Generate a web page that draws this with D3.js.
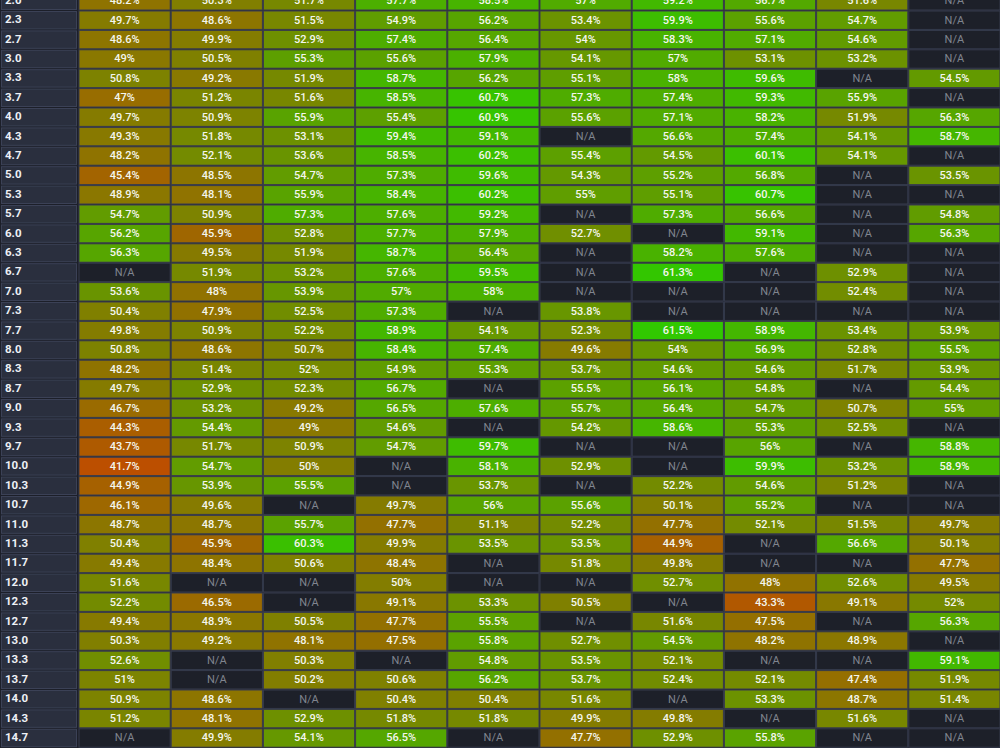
<!DOCTYPE html>
<html><head><meta charset="utf-8">
<script src="https://cdn.jsdelivr.net/npm/d3@7"></script>
<style>html,body{margin:0;padding:0;background:#1c1f29;overflow:hidden}svg{display:block}</style>
</head><body><svg id="c" width="1000" height="748"></svg>
<script>
const rowLabels = ["2.0","2.3","2.7","3.0","3.3","3.7","4.0","4.3","4.7","5.0","5.3","5.7","6.0","6.3","6.7","7.0","7.3","7.7","8.0","8.3","8.7","9.0","9.3","9.7","10.0","10.3","10.7","11.0","11.3","11.7","12.0","12.3","12.7","13.0","13.3","13.7","14.0","14.3","14.7"];
const columns = ["c1","c2","c3","c4","c5","c6","c7","c8","c9","c10"];
const c1 = [48.2,49.7,48.6,49,50.8,47,49.7,49.3,48.2,45.4,48.9,54.7,56.2,56.3,null,53.6,50.4,49.8,50.8,48.2,49.7,46.7,44.3,43.7,41.7,44.9,46.1,48.7,50.4,49.4,51.6,52.2,49.4,50.3,52.6,51,50.9,51.2,null];
const c2 = [50.3,48.6,49.9,50.5,49.2,51.2,50.9,51.8,52.1,48.5,48.1,50.9,45.9,49.5,51.9,48,47.9,50.9,48.6,51.4,52.9,53.2,54.4,51.7,54.7,53.9,49.6,48.7,45.9,48.4,null,46.5,48.9,49.2,null,null,48.6,48.1,49.9];
const c3 = [51.7,51.5,52.9,55.3,51.9,51.6,55.9,53.1,53.6,54.7,55.9,57.3,52.8,51.9,53.2,53.9,52.5,52.2,50.7,52,52.3,49.2,49,50.9,50,55.5,null,55.7,60.3,50.6,null,null,50.5,48.1,50.3,50.2,null,52.9,54.1];
const c4 = [57.7,54.9,57.4,55.6,58.7,58.5,55.4,59.4,58.5,57.3,58.4,57.6,57.7,58.7,57.6,57,57.3,58.9,58.4,54.9,56.7,56.5,54.6,54.7,null,null,49.7,47.7,49.9,48.4,50,49.1,47.7,47.5,null,50.6,50.4,51.8,56.5];
const c5 = [58.5,56.2,56.4,57.9,56.2,60.7,60.9,59.1,60.2,59.6,60.2,59.2,57.9,56.4,59.5,58,null,54.1,57.4,55.3,null,57.6,null,59.7,58.1,53.7,56,51.1,53.5,null,null,53.3,55.5,55.8,54.8,56.2,50.4,51.8,null];
const c6 = [57,53.4,54,54.1,55.1,57.3,55.6,null,55.4,54.3,55,null,52.7,null,null,null,53.8,52.3,49.6,53.7,55.5,55.7,54.2,null,52.9,null,55.6,52.2,53.5,51.8,null,50.5,null,52.7,53.5,53.7,51.6,49.9,47.7];
const c7 = [59.2,59.9,58.3,57,58,57.4,57.1,56.6,54.5,55.2,55.1,57.3,null,58.2,61.3,null,null,61.5,54,54.6,56.1,56.4,58.6,null,null,52.2,50.1,47.7,44.9,49.8,52.7,null,51.6,54.5,52.1,52.4,null,49.8,52.9];
const c8 = [56.7,55.6,57.1,53.1,59.6,59.3,58.2,57.4,60.1,56.8,60.7,56.6,59.1,57.6,null,null,null,58.9,56.9,54.6,54.8,54.7,55.3,56,59.9,54.6,55.2,52.1,null,null,48,43.3,47.5,48.2,null,52.1,53.3,null,55.8];
const c9 = [51.6,54.7,54.6,53.2,null,55.9,51.9,54.1,54.1,null,null,null,null,null,52.9,52.4,null,53.4,52.8,51.7,null,50.7,52.5,null,53.2,51.2,null,51.5,56.6,null,52.6,49.1,null,48.9,null,47.4,48.7,51.6,null];
const c10 = [null,null,null,null,54.5,null,56.3,58.7,null,53.5,null,54.8,56.3,null,null,null,null,53.9,55.5,53.9,54.4,55,null,58.8,58.9,null,null,49.7,50.1,47.7,49.5,52,56.3,null,59.1,51.9,51.4,null,null];
const series = {c1,c2,c3,c4,c5,c6,c7,c8,c9,c10};

const svg = d3.select("#c");
const rowH = 19.4;
const y = d3.scaleBand().domain(rowLabels).range([10 - rowH, 10 - rowH + rowLabels.length*rowH]).padding(0);
const x = d3.scaleBand().domain(columns).range([78.5, 1000.5]).padding(0);
const color = d3.scaleLinear().domain([40, 50, 60]).range(["#c84600", "#837d00", "#3cbe00"]).clamp(false);
const fmt = v => (+v.toFixed(1)) + "%";

svg.append("rect").attr("width",1000).attr("height",748).attr("fill","#1c1f29");

// row label cells
const rl = svg.append("g");
rl.selectAll("rect").data(rowLabels).join("rect")
  .attr("x", 1.5).attr("y", d => y(d) + 1.5)
  .attr("width", 75).attr("height", y.bandwidth() - 2)
  .attr("fill", "#2a2f3e").attr("stroke", "#3b4156").attr("stroke-width", 1);
rl.selectAll("text").data(rowLabels).join("text")
  .attr("x", 5).attr("y", d => y(d) + y.bandwidth()/2 + 0.5)
  .attr("dominant-baseline","middle")
  .attr("fill","#eef1f6").attr("font-family","Roboto, 'Open Sans', sans-serif")
  .attr("font-size", 11.5).attr("font-weight", 700).text(d => d);

// cells
const cells = [];
columns.forEach(c => rowLabels.forEach((r,i) => cells.push({r, c, v: series[c][i]})));
const g = svg.append("g");
g.selectAll("rect").data(cells).join("rect")
  .attr("x", d => x(d.c) + 0.5).attr("y", d => y(d.r) + 1)
  .attr("width", x.bandwidth() - 1).attr("height", y.bandwidth() - 1)
  .attr("fill", d => d.v == null ? "#1d2029" : color(d.v))
  .attr("stroke", d => d.v == null ? "#363b4d" : "#3a3d4c").attr("stroke-width", 1);
g.selectAll("text").data(cells).join("text")
  .attr("x", d => x(d.c) + x.bandwidth()/2).attr("y", d => y(d.r) + y.bandwidth()/2 + 1)
  .attr("text-anchor","middle").attr("dominant-baseline","middle")
  .attr("font-family","Roboto, 'Open Sans', sans-serif").attr("font-size", 11)
  .attr("font-weight", d => d.v == null ? 400 : 500)
  .attr("fill", d => d.v == null ? "#80858f" : "#f4f6ee")
  .text(d => d.v == null ? "N/A" : fmt(d.v));
</script></body></html>
